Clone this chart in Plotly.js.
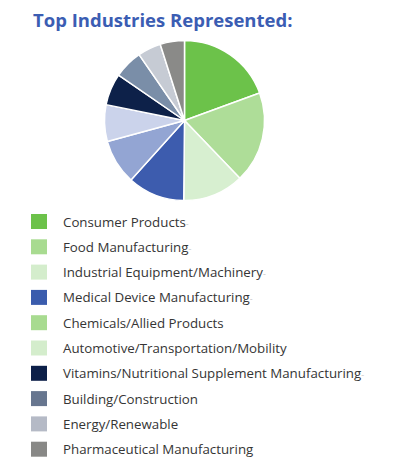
<!DOCTYPE html>
<html>
<head>
<meta charset="utf-8">
<script src="https://cdn.plot.ly/plotly-3.0.1.min.js"></script>
<style>html,body{margin:0;padding:0;background:#fff;}#chart{width:399px;height:470px;}</style>
</head>
<body>
<div id="chart"></div>
<script>
const categories = [
  "Consumer Products",
  "Food Manufacturing",
  "Industrial Equipment/Machinery",
  "Medical Device Manufacturing",
  "Chemicals/Allied Products",
  "Automotive/Transportation/Mobility",
  "Vitamins/Nutritional Supplement Manufacturing",
  "Building/Construction",
  "Energy/Renewable",
  "Pharmaceutical Manufacturing"
];
const values = [19.4, 18.4, 12.3, 11.5, 9.1, 7.4, 6.4, 5.8, 4.7, 4.9];
const sliceColors = ["#6cc24a", "#aedd98", "#d7efd0", "#3d5cae", "#93a5d3", "#cbd3eb", "#0d2149", "#7a8ea8", "#c6cbd4", "#8a8a88"];
const legendColors = ["#6cc24a", "#a8db90", "#d4edcc", "#3a5cad", "#a8db90", "#d4edcc", "#0c1f48", "#67768f", "#b5bac6", "#888886"];
const labelSuffix = ["-", "-", "-", "-", "", "", "-", "", "", ""];

const W = 399, H = 470;
const legendTop = 221.5, legendStep = 25.3;

const shapes = [];
const annotations = [];
categories.forEach((c, i) => {
  const yc = legendTop + i * legendStep;
  shapes.push({
    type: "rect", xref: "paper", yref: "paper",
    x0: 31 / W, x1: 47 / W,
    y0: 1 - (yc + 7.5) / H, y1: 1 - (yc - 7.5) / H,
    fillcolor: legendColors[i], line: {width: 0}
  });
  annotations.push({
    xref: "paper", yref: "paper",
    x: 61 / W, y: 1 - yc / H,
    xanchor: "left", yanchor: "middle",
    showarrow: false,
    text: c + (labelSuffix[i] ? '<span style="color:#c8c8c8;font-size:9px">' + labelSuffix[i] + '</span>' : ''),
    font: {family: "Open Sans", size: 13.3, color: "#353535"}
  });
});

annotations.push({
  xref: "paper", yref: "paper",
  x: 31 / W, y: 1 - 20 / H,
  xanchor: "left", yanchor: "middle",
  showarrow: false,
  text: "<b>Top Industries Represented:</b>",
  font: {family: "Open Sans", size: 18.5, color: "#3b5db3"}
});

const trace = {
  type: "pie",
  labels: categories,
  values: values,
  sort: false,
  direction: "clockwise",
  rotation: 0,
  textinfo: "none",
  hoverinfo: "label+percent",
  showlegend: false,
  marker: {colors: sliceColors, line: {color: "#ffffff", width: 1.5}},
  domain: {x: [104.5 / W, 264.5 / W], y: [1 - 201 / H, 1 - 40 / H]}
};

const layout = {
  width: W, height: H,
  margin: {l: 0, r: 0, t: 0, b: 0},
  paper_bgcolor: "#ffffff",
  plot_bgcolor: "#ffffff",
  showlegend: false,
  shapes: shapes,
  annotations: annotations
};

Plotly.newPlot("chart", [trace], layout, {displayModeBar: false, staticPlot: true});
</script>
</body>
</html>
